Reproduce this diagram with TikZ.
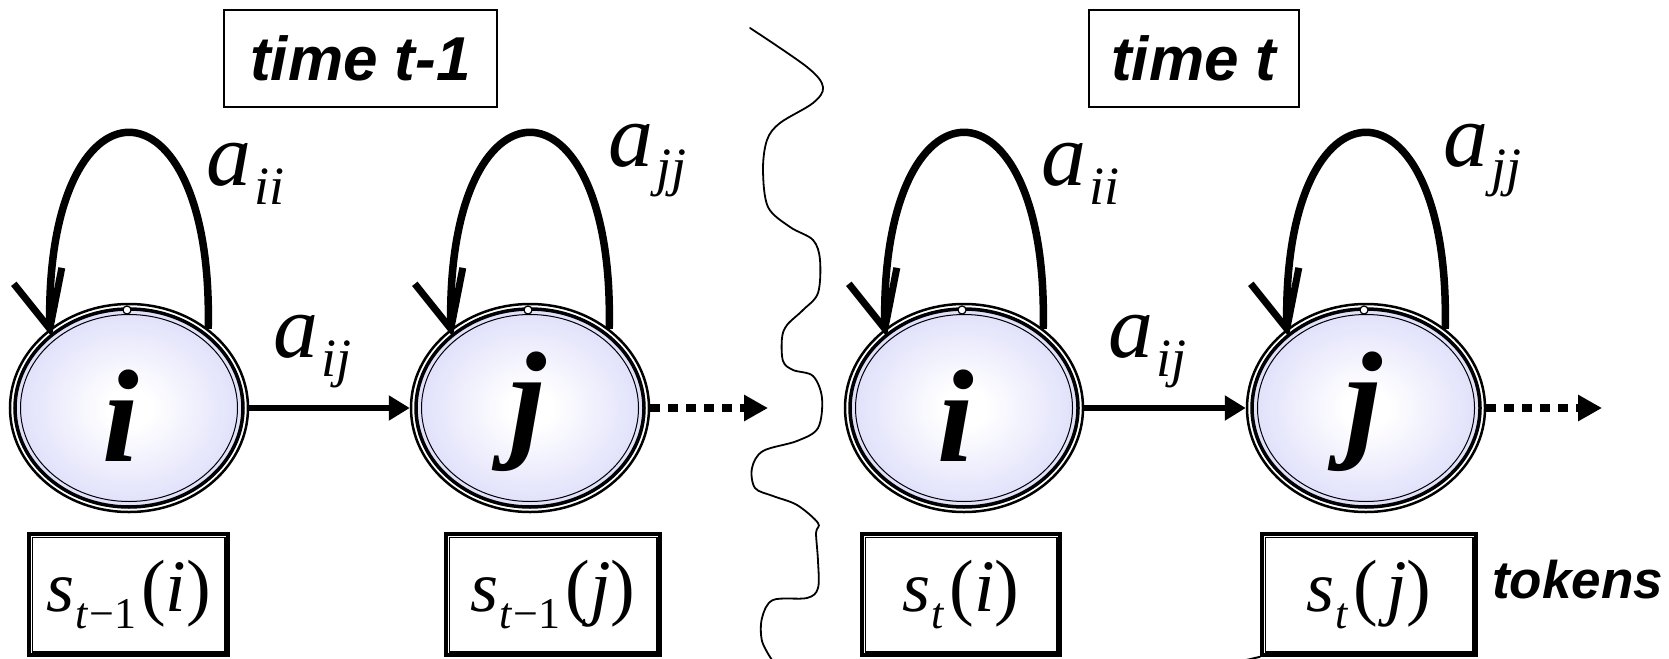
\documentclass[tikz,border=0pt]{standalone}
\usepackage{fontspec}
\setmainfont{Liberation Serif}
\newfontfamily\arialf{Liberation Sans}
\usetikzlibrary{arrows.meta,shapes.geometric,calc}
\definecolor{lav}{RGB}{186,186,246}
\pgfdeclareradialshading{ballshade}{\pgfpoint{0bp}{0bp}}{color(0bp)=(white); color(5bp)=(white); color(38bp)=(lav!75!white); color(50bp)=(lav)}
\newcommand\mysz[1]{\fontsize{#1}{#1}\selectfont}
\newcommand\alab[1]{{\mysz{90}\itshape a}\kern3pt\raisebox{-19pt}{\mysz{54}\itshape #1}}
\newcommand\stext[2]{{\mysz{72}\itshape s}\kern1pt\raisebox{-17pt}{\mysz{44}#1}\kern5pt{\mysz{74}(#2)}}
\tikzset{
  statenode/.style={ellipse, minimum width=238pt, minimum height=208pt, inner sep=0pt, draw, line width=2.5pt},
  innerring/.style={line width=3.5pt},
  thinring/.style={line width=1pt},
  loopline/.style={line width=7.5pt},
  barb/.style={line width=7pt, line cap=butt, line join=miter},
  trans/.style={line width=6pt, -{Triangle[length=21pt,width=24pt]}},
  dotarrow/.style={line width=8pt, dash pattern=on 10pt off 8pt, -{Triangle[length=24pt,width=25pt]}},
  tokbox/.style={draw, line width=3.5pt, minimum height=121pt, inner sep=0pt},
  tokinner/.style={line width=1.5pt},
  timebox/.style={draw, line width=1.5pt, minimum height=97pt, inner sep=0pt, font=\arialf\bfseries\itshape\mysz{62}},
  albl/.style={anchor=base west, inner sep=0pt},
  letter/.style={inner sep=0pt, font=\bfseries\itshape\mysz{132}},
  wave/.style={line width=1.8pt, line join=round, line cap=round},
  knot/.style={line width=1.2pt, fill=white}
}
\begin{document}
\begin{tikzpicture}[x=1pt,y=-1pt]
\useasboundingbox (0,0) rectangle (1669,658);

% wavy separator
\draw[wave] plot[smooth, tension=0.55] coordinates {
 (750,28) (807,67) (823,87) (813,103) (780,123) (767,140) (763,170) (768,207)
 (790,227) (813,240) (820,260) (818,293) (803,310) (787,325) (782,338) (783,361)
 (793,370) (813,376) (822,398) (818,428) (797,441) (763,451) (752,468) (755,488)
 (773,496) (797,505) (818,523) (816,533) (818,561) (818,588) (807,598) (773,600)
 (762,618) (762,641) (772,660)};

% state nodes
\foreach \n/\x in {i/129, j/530, i2/964, j2/1366}{
  \node[statenode] (\n) at (\x,408) {};
  \shade[shading=ballshade] (\n.center) ellipse [x radius=112.5pt, y radius=97.5pt];
  \draw[thinring] (\n.center) ellipse [x radius=108.5pt, y radius=93.5pt];
  \draw[innerring] (\n.center) ellipse [x radius=114pt, y radius=99pt];
  \draw[knot] ($(\n.center)+(-2,-98)$) circle (4pt);
}
\node[letter] (li) at ($(i.center)+(-8,8)$) {i};
\node[letter] (lj) at ($(j.center)+(-2,4)$) {j};
\node[letter] (li2) at ($(i2.center)+(-8,8)$) {i};
\node[letter] (lj2) at ($(j2.center)+(-2,4)$) {j};

% self loops with open arrowheads
\foreach \n in {i, j, i2, j2}{
  \draw[loopline] (\n.45) .. controls +(6,-262) and +(-6,-262) .. (\n.135);
  \draw[barb] ($(\n.135)+(-36,-45)$) -- (\n.135) -- ($(\n.135)+(12,-61)$);
}

% transitions
\draw[trans] (i.east) -- (j.west);
\draw[trans] (i2.east) -- (j2.west);
\coordinate (d1) at (768,408);
\coordinate (d2) at (1602,408);
\draw[dotarrow] (j.east) -- (d1);
\draw[dotarrow] (j2.east) -- (d2);

% transition labels
\node[albl] (aii) at (206,185) {\alab{ii}};
\node[albl] (ajj) at (608,166) {\alab{jj}};
\node[albl] (aij) at (273,357) {\alab{ij}};
\node[albl] (aii2) at (1041,185) {\alab{ii}};
\node[albl] (ajj2) at (1443,166) {\alab{jj}};
\node[albl] (aij2) at (1108,357) {\alab{ij}};

% time boxes
\node[timebox, minimum width=273pt] (tb1) at (360.5,58.5) {time t-1};
\node[timebox, minimum width=210pt] (tb2) at (1194,58.5) {time t};

% token boxes
\node[tokbox, minimum width=199pt] (b1) at (128.5,594.5) {\stext{\textit{t}\kern1pt−1}{\textit{i}}};
\node[tokbox, minimum width=214pt] (b2) at (553,594.5) {\stext{\textit{t}\kern1pt−1}{\textit{j}}};
\node[tokbox, minimum width=198pt] (b3) at (961,594.5) {\stext{\textit{t}}{\textit{i}}};
\node[tokbox, minimum width=214pt] (b4) at (1369,594.5) {\stext{\textit{t}}{\kern8pt\textit{j}}};
\foreach \b in {b1,b2,b3,b4}{
  \draw[tokinner] ($(\b.north west)+(5,5)$) rectangle ($(\b.south east)+(-5,-5)$);
}
\node[albl, font=\arialf\bfseries\itshape\mysz{53}] (tok) at (1492,598) {tokens};
\coordinate (cutend) at (1238,662);
\draw[line width=2pt] (cutend) -- (b4.south west);
\end{tikzpicture}
\end{document}
